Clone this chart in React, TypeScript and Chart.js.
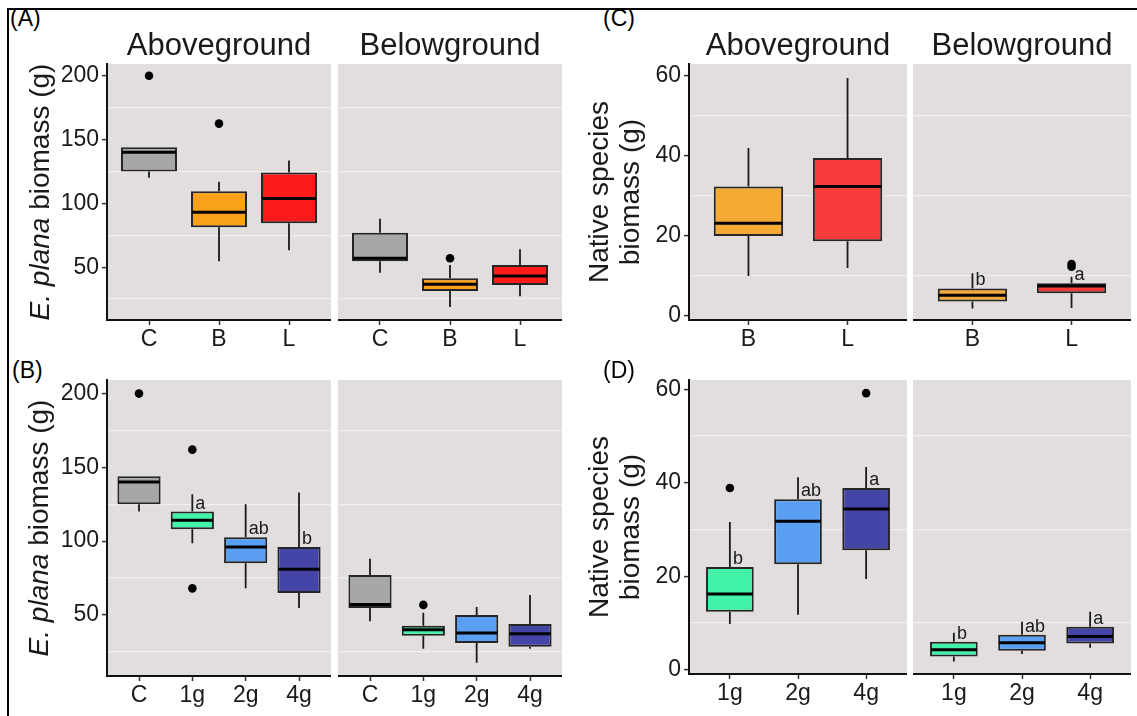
import React, { useEffect, useRef } from 'react';
import { Chart, registerables } from 'chart.js';

Chart.register(...registerables);

// ---------------- data ----------------
const treatCats = ['C', 'B', 'L'];
const densityCats = ['C', '1g', '2g', '4g'];
const nativeTreatCats = ['B', 'L'];
const nativeDensityCats = ['1g', '2g', '4g'];

// five-number summaries per category: [min, q1, median, q3, max]
const aAbove = [[120, 125, 140, 144, 144], [54.7, 81.3, 93, 109.5, 117], [63.3, 84.4, 103.9, 124.2, 133.6]];
const aAboveOut = [[200], [162.5], []];
const aBelow = [[45.7, 54.7, 57, 77, 88], [18.8, 31.3, 36.7, 41.4, 51.6], [27.3, 36, 43, 51.6, 64]];
const aBelowOut = [[], [57], []];

const bAbove = [[120, 125, 140, 144, 144], [98.6, 108, 114.2, 120, 131.8], [68, 85, 96, 102.7, 125], [54.7, 64.8, 81, 96, 133]];
const bAboveOut = [[200], [162, 68], [], []];
const bAboveLetters = ['', 'a', 'ab', 'b'];
const bBelow = [[45.7, 54.7, 57, 77, 88], [27, 35.8, 40, 42.6, 51.4], [17.6, 31, 37.8, 50, 55.4], [27, 28.4, 37.2, 43.9, 63.5]];
const bBelowOut = [[], [56.8], [], []];

const cAbove = [[10, 20, 23.2, 32.4, 42], [12, 18.7, 32.4, 39.5, 59.5]];
const cAboveOut = [[], []];
const cBelow = [[1.9, 3.6, 5.2, 6.9, 10.7], [2, 5.7, 7.5, 8.2, 9.8]];
const cBelowOut = [[], [12.3, 13.0]];
const cBelowLetters = ['b', 'a'];

const dAbove = [[9.8, 12.4, 16.2, 22, 31.6], [11.8, 22.6, 31.8, 36.5, 41.2], [19.4, 25.6, 34.4, 38.9, 43.4]];
const dAboveOut = [[38.9], [], [59.2]];
const dAboveLetters = ['b', 'ab', 'a'];
const dBelow = [[1.8, 2.85, 4.3, 6, 7.9], [3.4, 4.1, 5.8, 7.5, 10.3], [4.7, 5.6, 7.1, 9.2, 12.4]];
const dBelowOut = [[], [], []];
const dBelowLetters = ['b', 'ab', 'a'];

const plantaMajorTicks = [50, 100, 150, 200];
const plantaMinorTicks = [25, 75, 125, 175];
const nativeMajorTicks = [0, 20, 40, 60];
const nativeMinorTicks = [10, 30, 50];

// ---------------- style ----------------
const FONT = '"Liberation Sans", Arial, Helvetica, sans-serif';
const TEXT = '#1a1a1a';
const PANEL_BG = '#E2DEDE';
const GRID = '#F1EEEE';
const BOX_BORDER = '#262626';

const GREY = '#A7A7A7';
const ORANGE = '#F9A11B';
const RED = '#FD1B1B';
const ORANGE2 = '#F6AA36';
const RED2 = '#F83B3B';
const GREEN = '#42F2A8';
const BLUE = '#5B9FF2';
const NAVY = '#4545A8';

const Y_AXIS_W = 55;
const X_AXIS_H = 45;
const PAD_TOP = 12;

type FacetSpec = {
  key: string;
  x: number;
  y: number;
  w: number;
  h: number;
  showY: boolean;
  cats: string[];
  stats: number[][];
  outliers: number[][];
  letters?: string[];
  colors: string[];
  yMin: number;
  yMax: number;
  major: number[];
  minor: number[];
  boxW: number;
};

function Facet({ spec }: { spec: FacetSpec }) {
  const ref = useRef<HTMLCanvasElement | null>(null);
  const yW = spec.showY ? Y_AXIS_W : 0;
  const cw = yW + spec.w;
  const ch = PAD_TOP + spec.h + X_AXIS_H;

  useEffect(() => {
    if (!ref.current) return;
    const n = spec.cats.length;
    const boxData = spec.stats.map((s, i) => ({ x: i + 1, y: [s[1], s[3]] }));
    const outData: { x: number; y: number }[] = [];
    spec.outliers.forEach((arr, i) => arr.forEach((v) => outData.push({ x: i + 1, y: v })));
    const allTicks = [...spec.major, ...spec.minor].sort((a, b) => a - b);

    const plugin = {
      id: 'boxplotExtras' + spec.key,
      beforeDraw(chart: any) {
        const { ctx, chartArea: a } = chart;
        ctx.save();
        ctx.fillStyle = PANEL_BG;
        ctx.fillRect(a.left, a.top, a.right - a.left, a.bottom - a.top);
        ctx.restore();
      },
      beforeDatasetsDraw(chart: any) {
        const { ctx } = chart;
        const xs = chart.scales.x;
        const ys = chart.scales.y;
        ctx.save();
        ctx.strokeStyle = '#1a1a1a';
        ctx.lineWidth = 1.8;
        spec.stats.forEach((s, i) => {
          const px = xs.getPixelForValue(i + 1);
          ctx.beginPath();
          ctx.moveTo(px, ys.getPixelForValue(s[3]));
          ctx.lineTo(px, ys.getPixelForValue(s[4]));
          ctx.moveTo(px, ys.getPixelForValue(s[1]));
          ctx.lineTo(px, ys.getPixelForValue(s[0]));
          ctx.stroke();
        });
        ctx.restore();
      },
      afterDatasetsDraw(chart: any) {
        const { ctx } = chart;
        const xs = chart.scales.x;
        const ys = chart.scales.y;
        const meta = chart.getDatasetMeta(0);
        ctx.save();
        spec.stats.forEach((s, i) => {
          const px = xs.getPixelForValue(i + 1);
          const el = meta.data[i];
          const half = el ? el.width / 2 : 20;
          ctx.strokeStyle = '#000';
          ctx.lineWidth = 3;
          ctx.beginPath();
          ctx.moveTo(px - half + 1, ys.getPixelForValue(s[2]));
          ctx.lineTo(px + half - 1, ys.getPixelForValue(s[2]));
          ctx.stroke();
          const letter = spec.letters ? spec.letters[i] : '';
          if (letter) {
            ctx.fillStyle = TEXT;
            ctx.font = `18px ${FONT}`;
            ctx.textAlign = 'left';
            ctx.textBaseline = 'alphabetic';
            ctx.fillText(letter, px + 3, ys.getPixelForValue(s[3]) - 3);
          }
        });
        ctx.restore();
      },
    };

    const chart = new Chart(ref.current, {
      type: 'bar',
      data: {
        datasets: [
          {
            type: 'bar',
            data: boxData as any,
            backgroundColor: spec.colors,
            borderColor: BOX_BORDER,
            borderWidth: 2,
            borderSkipped: false,
            barPercentage: spec.boxW,
            categoryPercentage: 1,
          } as any,
          {
            type: 'scatter',
            data: outData as any,
            backgroundColor: '#000',
            borderWidth: 0,
            pointRadius: 4.3,
          } as any,
        ],
      },
      options: {
        animation: false,
        responsive: false,
        devicePixelRatio: 1,
        layout: { autoPadding: false, padding: { top: PAD_TOP, left: 0, right: 0, bottom: 0 } },
        plugins: { legend: { display: false }, tooltip: { enabled: false } },
        events: [],
        scales: {
          x: {
            type: 'linear',
            min: 0.4,
            max: n + 0.6,
            offset: false,
            afterBuildTicks: (ax: any) => {
              ax.ticks = spec.cats.map((_, i) => ({ value: i + 1 }));
            },
            afterFit: (ax: any) => {
              ax.height = X_AXIS_H;
              ax.paddingLeft = 0;
              ax.paddingRight = 0;
            },
            ticks: {
              callback: (_v: any, i: number) => spec.cats[i],
              autoSkip: false,
              maxRotation: 0,
              minRotation: 0,
              padding: 1,
              color: TEXT,
              font: { family: FONT, size: 23 },
            },
            grid: {
              offset: false,
              drawOnChartArea: false,
              drawTicks: true,
              tickLength: 5,
              tickColor: '#333',
              tickWidth: 1.5,
            },
            border: { display: true, color: '#111', width: 2 },
          },
          y: {
            type: 'linear',
            min: spec.yMin,
            max: spec.yMax,
            afterBuildTicks: (ax: any) => {
              ax.ticks = allTicks.map((v) => ({ value: v }));
            },
            afterFit: (ax: any) => {
              ax.width = yW;
              ax.paddingTop = 0;
              ax.paddingBottom = 0;
            },
            ticks: {
              display: spec.showY,
              callback: (v: any) => (spec.major.includes(Number(v)) ? String(v) : ''),
              autoSkip: false,
              padding: 3,
              color: TEXT,
              font: { family: FONT, size: 23 },
            },
            grid: {
              color: (c: any) => (c.tick && spec.minor.includes(c.tick.value) ? GRID : 'rgba(0,0,0,0)'),
              lineWidth: 1.2,
              drawTicks: spec.showY,
              tickLength: 5,
              tickColor: (c: any) => (c.tick && spec.major.includes(c.tick.value) ? '#333' : 'rgba(0,0,0,0)'),
              tickWidth: 1.5,
            },
            border: { display: spec.showY, color: '#111', width: 2 },
          },
        },
      } as any,
      plugins: [plugin as any],
    });
    return () => chart.destroy();
  }, [spec]);

  return (
    <canvas
      ref={ref}
      width={cw}
      height={ch}
      style={{ position: 'absolute', left: spec.x - yW, top: spec.y - PAD_TOP, width: cw, height: ch, display: 'block' }}
    />
  );
}

// ---------------- layout ----------------
const PLANTA_MIN = 8.6;
const PLANTA_MAX = 209.2;

const facets: FacetSpec[] = [
  { key: 'aA', x: 107, y: 64, w: 224, h: 256, showY: true, cats: treatCats, stats: aAbove, outliers: aAboveOut, colors: [GREY, ORANGE, RED], yMin: PLANTA_MIN, yMax: PLANTA_MAX, major: plantaMajorTicks, minor: plantaMinorTicks, boxW: 0.8 },
  { key: 'aB', x: 338, y: 64, w: 224, h: 256, showY: false, cats: treatCats, stats: aBelow, outliers: aBelowOut, colors: [GREY, ORANGE, RED], yMin: PLANTA_MIN, yMax: PLANTA_MAX, major: plantaMajorTicks, minor: plantaMinorTicks, boxW: 0.8 },
  { key: 'bA', x: 107, y: 380, w: 224, h: 296, showY: true, cats: densityCats, stats: bAbove, outliers: bAboveOut, letters: bAboveLetters, colors: [GREY, GREEN, BLUE, NAVY], yMin: PLANTA_MIN, yMax: PLANTA_MAX, major: plantaMajorTicks, minor: plantaMinorTicks, boxW: 0.81 },
  { key: 'bB', x: 338, y: 380, w: 224, h: 296, showY: false, cats: densityCats, stats: bBelow, outliers: bBelowOut, colors: [GREY, GREEN, BLUE, NAVY], yMin: PLANTA_MIN, yMax: PLANTA_MAX, major: plantaMajorTicks, minor: plantaMinorTicks, boxW: 0.81 },
  { key: 'cA', x: 689, y: 64, w: 218, h: 256, showY: true, cats: nativeTreatCats, stats: cAbove, outliers: cAboveOut, colors: [ORANGE2, RED2], yMin: -1, yMax: 63, major: nativeMajorTicks, minor: nativeMinorTicks, boxW: 0.7 },
  { key: 'cB', x: 913, y: 64, w: 218, h: 256, showY: false, cats: nativeTreatCats, stats: cBelow, outliers: cBelowOut, letters: cBelowLetters, colors: [ORANGE2, RED2], yMin: -1, yMax: 63, major: nativeMajorTicks, minor: nativeMinorTicks, boxW: 0.7 },
  { key: 'dA', x: 689, y: 380, w: 218, h: 294, showY: true, cats: nativeDensityCats, stats: dAbove, outliers: dAboveOut, letters: dAboveLetters, colors: [GREEN, BLUE, NAVY], yMin: -0.9, yMax: 62, major: nativeMajorTicks, minor: nativeMinorTicks, boxW: 0.7 },
  { key: 'dB', x: 913, y: 380, w: 218, h: 294, showY: false, cats: nativeDensityCats, stats: dBelow, outliers: dBelowOut, letters: dBelowLetters, colors: [GREEN, BLUE, NAVY], yMin: -0.9, yMax: 62, major: nativeMajorTicks, minor: nativeMinorTicks, boxW: 0.7 },
];

const panelLabels = [
  { t: '(A)', x: 10, y: 7 },
  { t: '(B)', x: 12, y: 359 },
  { t: '(C)', x: 603, y: 7 },
  { t: '(D)', x: 603, y: 359 },
];

const stripTitles = [
  { t: 'Aboveground', cx: 219 },
  { t: 'Belowground', cx: 450 },
  { t: 'Aboveground', cx: 798 },
  { t: 'Belowground', cx: 1022 },
];

function RotTitle({ cx, cy, children }: { cx: number; cy: number; children: React.ReactNode }) {
  return (
    <div
      style={{
        position: 'absolute',
        left: cx,
        top: cy,
        transform: 'translate(-50%, -50%) rotate(-90deg)',
        whiteSpace: 'nowrap',
        textAlign: 'center',
        fontFamily: FONT,
        fontSize: 28,
        lineHeight: '31px',
        color: TEXT,
      }}
    >
      {children}
    </div>
  );
}

export default function App() {
  return (
    <div style={{ position: 'absolute', left: 0, top: 0, width: 1137, height: 716, overflow: 'hidden', background: '#fff' }}>
      <div style={{ position: 'absolute', left: 7, top: 8, width: 1160, height: 740, border: '2px solid #000', boxSizing: 'border-box' }} />
      {facets.map((f) => (
        <Facet key={f.key} spec={f} />
      ))}
      {panelLabels.map((p) => (
        <div key={p.t} style={{ position: 'absolute', left: p.x, top: p.y, fontFamily: FONT, fontSize: 23, lineHeight: '23px', color: '#000' }}>
          {p.t}
        </div>
      ))}
      {stripTitles.map((s, i) => (
        <div key={i} style={{ position: 'absolute', left: s.cx, top: 29, transform: 'translateX(-50%)', fontFamily: FONT, fontSize: 31, lineHeight: '31px', color: TEXT, whiteSpace: 'nowrap' }}>
          {s.t}
        </div>
      ))}
      <RotTitle cx={39} cy={192}>
        <i>E. plana</i> biomass (g)
      </RotTitle>
      <RotTitle cx={38} cy={528}>
        <i>E. plana</i> biomass (g)
      </RotTitle>
      <RotTitle cx={614} cy={192}>
        Native species
        <br />
        biomass (g)
      </RotTitle>
      <RotTitle cx={614} cy={527}>
        Native species
        <br />
        biomass (g)
      </RotTitle>
    </div>
  );
}
